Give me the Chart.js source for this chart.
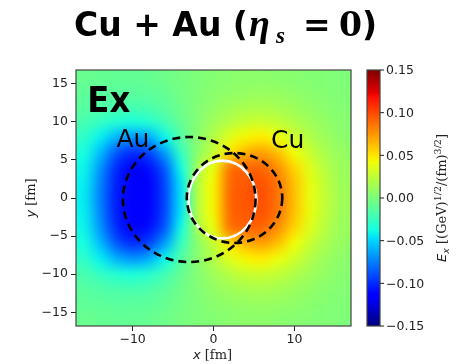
<!DOCTYPE html>
<html>
<head>
<meta charset="utf-8">
<script src="https://cdn.jsdelivr.net/npm/chart.js@4.4.1/dist/chart.umd.min.js"></script>
<style>
  html, body { margin: 0; padding: 0; background: #fff; }
</style>
</head>
<body>
<canvas id="c" width="466" height="364"></canvas>
<script>
// grid centres (fm) of the Ex map, rows go from top (y=16) to bottom (y=-16)
const xCenters = [-16, -14, -12, -10, -8, -6, -4, -2, 0, 2, 4, 6, 8, 10, 12, 14, 16];
const yCenters = [16, 14, 12, 10, 8, 6, 4, 2, 0, -2, -4, -6, -8, -10, -12, -14, -16];
const exValues = [
  [-0.007,-0.008,-0.009,-0.009,-0.008,-0.005,-0.002,0.001,0.003,0.005,0.006,0.006,0.005,0.004,0.003,0.002,0.001],
  [-0.010,-0.011,-0.012,-0.012,-0.011,-0.008,-0.003,0.001,0.005,0.007,0.009,0.010,0.009,0.007,0.005,0.003,0.002],
  [-0.013,-0.016,-0.018,-0.019,-0.017,-0.012,-0.005,0.002,0.008,0.013,0.016,0.017,0.015,0.012,0.008,0.005,0.003],
  [-0.019,-0.026,-0.032,-0.035,-0.031,-0.021,-0.008,0.003,0.013,0.021,0.027,0.029,0.025,0.019,0.013,0.008,0.004],
  [-0.028,-0.042,-0.060,-0.068,-0.062,-0.040,-0.015,0.005,0.020,0.036,0.045,0.048,0.041,0.030,0.019,0.011,0.006],
  [-0.036,-0.057,-0.086,-0.099,-0.092,-0.065,-0.025,0.005,0.027,0.050,0.066,0.072,0.061,0.042,0.027,0.016,0.009],
  [-0.040,-0.068,-0.100,-0.112,-0.108,-0.085,-0.038,0.015,0.040,0.085,0.090,0.090,0.077,0.055,0.035,0.020,0.011],
  [-0.042,-0.073,-0.104,-0.117,-0.114,-0.091,-0.044,0.020,0.045,0.089,0.095,0.097,0.085,0.061,0.039,0.023,0.012],
  [-0.043,-0.075,-0.105,-0.118,-0.115,-0.092,-0.045,0.020,0.045,0.090,0.096,0.098,0.086,0.062,0.040,0.024,0.013],
  [-0.042,-0.073,-0.104,-0.117,-0.114,-0.091,-0.044,0.020,0.045,0.089,0.095,0.097,0.085,0.061,0.039,0.023,0.012],
  [-0.040,-0.068,-0.100,-0.112,-0.108,-0.085,-0.038,0.015,0.040,0.085,0.090,0.090,0.077,0.055,0.035,0.020,0.011],
  [-0.036,-0.057,-0.086,-0.099,-0.092,-0.065,-0.025,0.005,0.027,0.050,0.066,0.072,0.061,0.042,0.027,0.016,0.009],
  [-0.028,-0.042,-0.060,-0.068,-0.062,-0.040,-0.015,0.005,0.020,0.036,0.045,0.048,0.041,0.030,0.019,0.011,0.006],
  [-0.019,-0.026,-0.032,-0.035,-0.031,-0.021,-0.008,0.003,0.013,0.021,0.027,0.029,0.025,0.019,0.013,0.008,0.004],
  [-0.013,-0.016,-0.018,-0.019,-0.017,-0.012,-0.005,0.002,0.008,0.013,0.016,0.017,0.015,0.012,0.008,0.005,0.003],
  [-0.010,-0.011,-0.012,-0.012,-0.011,-0.008,-0.003,0.001,0.005,0.007,0.009,0.010,0.009,0.007,0.005,0.003,0.002],
  [-0.007,-0.008,-0.009,-0.009,-0.008,-0.005,-0.002,0.001,0.003,0.005,0.006,0.006,0.005,0.004,0.003,0.002,0.001]
];

// nuclei outlines (dashed) and the white overlap contour
const nucleusNames = ['Au', 'Cu'];
const nucleusX = [-3.0, 2.6];
const nucleusY = [-0.2, 0.0];
const nucleusR = [8.2, 5.9];
const overlapX = 1.1, overlapY = -0.2, overlapRx = 4.2, overlapRy = 5.1;

const xTicks = [-10, 0, 10];
const yTicks = [-15, -10, -5, 0, 5, 10, 15];
const cbTicks = [-0.15, -0.10, -0.05, 0.00, 0.05, 0.10, 0.15];
const vMin = -0.15, vMax = 0.15;

// matplotlib 'jet'
const jetR = [[0, 0], [0.35, 0], [0.66, 1], [0.89, 1], [1, 0.5]];
const jetG = [[0, 0], [0.125, 0], [0.375, 1], [0.64, 1], [0.91, 0], [1, 0]];
const jetB = [[0, 0.5], [0.11, 1], [0.34, 1], [0.65, 0], [1, 0]];
function seg(pts, t) {
  for (let i = 1; i < pts.length; i++) {
    if (t <= pts[i][0]) {
      const [t0, v0] = pts[i - 1], [t1, v1] = pts[i];
      return v0 + (v1 - v0) * (t - t0) / (t1 - t0);
    }
  }
  return pts[pts.length - 1][1];
}
function jet(v) {
  let t = (v - vMin) / (vMax - vMin);
  t = Math.max(0, Math.min(1, t));
  return [seg(jetR, t) * 255, seg(jetG, t) * 255, seg(jetB, t) * 255];
}

const fmt = v => (v < 0 ? '\u2212' : '') + Math.abs(v);

// draws a list of text runs one after the other
function drawRuns(ctx, runs, x, y, align) {
  let w = 0;
  runs.forEach(r => { ctx.font = r.font; w += ctx.measureText(r.t).width; });
  let cx = align === 'center' ? x - w / 2 : x;
  ctx.textAlign = 'left';
  ctx.textBaseline = 'alphabetic';
  runs.forEach(r => {
    ctx.font = r.font;
    ctx.fillText(r.t, cx, y + (r.dy || 0));
    cx += ctx.measureText(r.t).width;
  });
}

const heatmapPlugin = {
  id: 'heatmap',
  beforeDatasetsDraw(chart) {
    const { ctx, chartArea, scales: { x, y } } = chart;
    const nx = xCenters.length, ny = yCenters.length;
    const off = document.createElement('canvas');
    off.width = nx; off.height = ny;
    const octx = off.getContext('2d');
    const img = octx.createImageData(nx, ny);
    for (let j = 0; j < ny; j++) {
      for (let i = 0; i < nx; i++) {
        const c = jet(exValues[j][i]);
        const k = (j * nx + i) * 4;
        img.data[k] = c[0]; img.data[k + 1] = c[1]; img.data[k + 2] = c[2]; img.data[k + 3] = 255;
      }
    }
    octx.putImageData(img, 0, 0);
    const x0 = x.getPixelForValue(xCenters[0] - 1), x1 = x.getPixelForValue(xCenters[nx - 1] + 1);
    const y0 = y.getPixelForValue(yCenters[0] + 1), y1 = y.getPixelForValue(yCenters[ny - 1] - 1);
    ctx.save();
    ctx.beginPath();
    ctx.rect(chartArea.left, chartArea.top, chartArea.right - chartArea.left, chartArea.bottom - chartArea.top);
    ctx.clip();
    ctx.imageSmoothingEnabled = true;
    ctx.imageSmoothingQuality = 'high';
    ctx.drawImage(off, x0, y0, x1 - x0, y1 - y0);
    ctx.restore();
  },
  afterDatasetsDraw(chart) {
    const { ctx, chartArea, scales: { x, y, cb } } = chart;
    ctx.save();
    ctx.beginPath();
    ctx.rect(chartArea.left, chartArea.top, chartArea.right - chartArea.left, chartArea.bottom - chartArea.top);
    ctx.clip();

    // white overlap contour
    ctx.strokeStyle = '#fff';
    ctx.lineWidth = 2.6;
    ctx.beginPath();
    ctx.ellipse(x.getPixelForValue(overlapX), y.getPixelForValue(overlapY),
      Math.abs(x.getPixelForValue(overlapX + overlapRx) - x.getPixelForValue(overlapX)),
      Math.abs(y.getPixelForValue(overlapY + overlapRy) - y.getPixelForValue(overlapY)), 0, 0, Math.PI * 2);
    ctx.stroke();

    // dashed nuclei
    ctx.strokeStyle = '#000';
    ctx.lineWidth = 2.6;
    ctx.setLineDash([8, 5]);
    nucleusNames.forEach((n, i) => {
      const cx = x.getPixelForValue(nucleusX[i]), cy = y.getPixelForValue(nucleusY[i]);
      const rx = Math.abs(x.getPixelForValue(nucleusX[i] + nucleusR[i]) - cx);
      const ry = Math.abs(y.getPixelForValue(nucleusY[i] + nucleusR[i]) - cy);
      ctx.beginPath();
      ctx.ellipse(cx, cy, rx, ry, 0, 0, Math.PI * 2);
      ctx.stroke();
    });
    ctx.setLineDash([]);

    // labels
    ctx.fillStyle = '#000';
    ctx.textBaseline = 'alphabetic';
    ctx.textAlign = 'left';
    ctx.font = 'bold 36px "DejaVu Sans Condensed", "DejaVu Sans"';
    ctx.fillText('Ex', x.getPixelForValue(-15.6), y.getPixelForValue(11.3));
    ctx.font = '25px "DejaVu Sans"';
    ctx.fillText('Au', x.getPixelForValue(-12), y.getPixelForValue(6.7));
    ctx.fillText('Cu', x.getPixelForValue(7.1), y.getPixelForValue(6.6));
    ctx.restore();

    // frame
    ctx.save();
    ctx.strokeStyle = '#444';
    ctx.lineWidth = 1.2;
    ctx.strokeRect(chartArea.left, chartArea.top, chartArea.right - chartArea.left, chartArea.bottom - chartArea.top);

    // colour bar
    const bl = 367, br = 380;
    const top = cb.getPixelForValue(vMax), bot = cb.getPixelForValue(vMin);
    for (let p = Math.floor(top); p < bot; p++) {
      const c = jet(cb.getValueForPixel(p + 0.5));
      ctx.fillStyle = `rgb(${c[0] | 0},${c[1] | 0},${c[2] | 0})`;
      ctx.fillRect(bl, p, br - bl, 1);
    }
    ctx.strokeRect(bl, top, br - bl, bot - top);
    ctx.fillStyle = '#222';
    ctx.strokeStyle = '#222';
    ctx.lineWidth = 1;
    ctx.font = '12.5px "DejaVu Sans"';
    ctx.textAlign = 'left';
    ctx.textBaseline = 'middle';
    cbTicks.forEach(v => {
      const py = cb.getPixelForValue(v);
      ctx.beginPath();
      ctx.moveTo(br, py); ctx.lineTo(br + 4, py);
      ctx.stroke();
      ctx.fillText((v < 0 ? '\u2212' : '') + Math.abs(v).toFixed(2), br + 6, py + 1);
    });

    // colour bar label
    ctx.save();
    ctx.translate(446, (top + bot) / 2);
    ctx.rotate(-Math.PI / 2);
    drawRuns(ctx, [
      { t: 'E', font: 'italic 13px "DejaVu Sans"' },
      { t: 'x', font: 'italic 9.5px "DejaVu Sans"', dy: 2.5 },
      { t: ' [(GeV)', font: '13px "DejaVu Serif"' },
      { t: '1/2', font: '9.5px "DejaVu Serif"', dy: -5 },
      { t: '/(fm)', font: '13px "DejaVu Serif"' },
      { t: '3/2', font: '9.5px "DejaVu Serif"', dy: -5 },
      { t: ']', font: '13px "DejaVu Serif"' }
    ], 0, 0, 'center');
    ctx.restore();

    // axis titles
    ctx.fillStyle = '#222';
    drawRuns(ctx, [
      { t: 'x', font: 'italic 13px "DejaVu Sans"' },
      { t: ' [fm]', font: '13px "DejaVu Serif"' }
    ], (chartArea.left + chartArea.right) / 2 - 1, 359, 'center');
    ctx.save();
    ctx.translate(35, (chartArea.top + chartArea.bottom) / 2);
    ctx.rotate(-Math.PI / 2);
    drawRuns(ctx, [
      { t: 'y', font: 'italic 13px "DejaVu Sans"' },
      { t: ' [fm]', font: '13px "DejaVu Serif"' }
    ], 0, 0, 'center');
    ctx.restore();

    // title
    ctx.fillStyle = '#000';
    ctx.textBaseline = 'alphabetic';
    ctx.font = 'bold 33px "DejaVu Sans"';
    ctx.fillText('Cu + Au (', 74, 36);
    ctx.font = 'bold italic 38px "Liberation Serif"';
    ctx.fillText('\u03b7', 249, 36);
    ctx.font = 'bold italic 23px "Liberation Serif"';
    ctx.fillText('s', 276, 43);
    ctx.font = 'bold 33px "DejaVu Serif"';
    ctx.fillText('=', 303, 36);
    ctx.fillText('0', 339, 36);
    ctx.font = 'bold 33px "DejaVu Sans"';
    ctx.fillText(')', 362, 36);
    ctx.restore();
  }
};

const tickFont = { family: 'DejaVu Sans', size: 12.5 };

new Chart(document.getElementById('c'), {
  type: 'scatter',
  data: { datasets: [] },
  options: {
    responsive: false,
    animation: false,
    layout: { padding: { top: 70, left: 0, right: 115, bottom: 0 } },
    plugins: { legend: { display: false }, tooltip: { enabled: false } },
    scales: {
      x: {
        type: 'linear', min: -17, max: 17,
        afterBuildTicks: s => { s.ticks = xTicks.map(v => ({ value: v })); },
        afterFit: s => { s.height = 38; },
        ticks: { color: '#222', font: tickFont, padding: 1, maxRotation: 0, callback: fmt },
        grid: { display: true, drawOnChartArea: false, tickLength: 5, color: '#222' },
        border: { display: false }
      },
      y: {
        type: 'linear', min: -16.8, max: 16.8,
        afterBuildTicks: s => { s.ticks = yTicks.map(v => ({ value: v })); },
        afterFit: s => { s.width = 76; },
        ticks: { color: '#222', font: tickFont, padding: 3, callback: fmt },
        grid: { display: true, drawOnChartArea: false, tickLength: 5, color: '#222' },
        border: { display: false }
      },
      cb: { type: 'linear', display: false, position: 'right', min: vMin, max: vMax }
    }
  },
  plugins: [heatmapPlugin]
});
</script>
</body>
</html>
